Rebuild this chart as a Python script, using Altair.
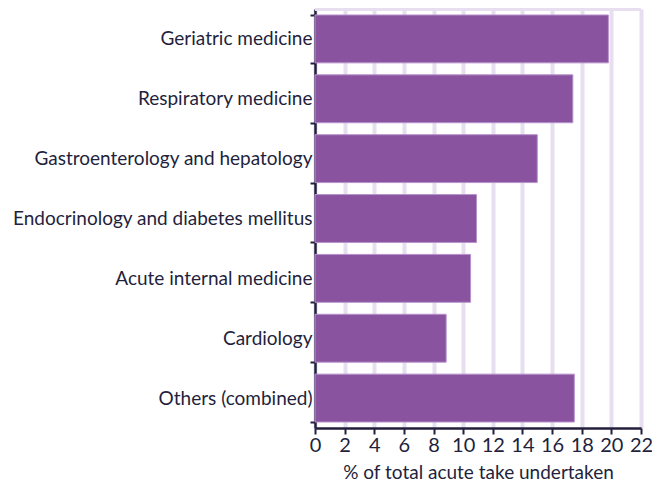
import altair as alt
import pandas as pd

categories = [
    "Geriatric medicine",
    "Respiratory medicine",
    "Gastroenterology and hepatology",
    "Endocrinology and diabetes mellitus",
    "Acute internal medicine",
    "Cardiology",
    "Others (combined)",
]
values = [19.8, 17.4, 15.0, 10.9, 10.5, 8.85, 17.5]
x_ticks = list(range(0, 23, 2))

df = pd.DataFrame({"category": categories, "value": values})

TEXT = "#231f3d"
GRID = "#e7dfef"
FONT = "Lato"

xscale = alt.Scale(domain=[0, 22], nice=False)
xaxis = alt.Axis(
    values=x_ticks, labelFont=FONT, labelFontSize=20, labelColor=TEXT,
    labelOverlap=False, labelFlush=False,
    titleFont=FONT, titleFontSize=19, titleColor=TEXT, titleFontWeight="normal",
    titlePadding=8, tickSize=6, tickColor=TEXT, tickWidth=2,
    domainColor=TEXT, domainWidth=2.5, labelPadding=1,
    grid=True, gridColor=GRID, gridWidth=4,
)
XTITLE = "% of total acute take undertaken"

bars = alt.Chart(df).mark_bar(
    color="#8953a0", stroke="#b792cb", strokeWidth=1
).encode(
    y=alt.Y(
        "category:N",
        sort=categories,
        title=None,
        scale=alt.Scale(paddingInner=0.2, paddingOuter=0.1),
        axis=alt.Axis(
            labelFont=FONT, labelFontSize=19, labelColor=TEXT, labelPadding=-2,
            tickBand="extent", tickSize=5, tickColor=TEXT, tickWidth=2,
            domainColor=TEXT, domainWidth=2.5, grid=False, labelLimit=400,
        ),
    ),
    x=alt.X("value:Q", title=XTITLE, scale=xscale, axis=xaxis),
)

top_line = alt.Chart(pd.DataFrame({"a": [0], "b": [22]})).mark_rule(
    color=GRID, strokeWidth=4
).encode(
    x=alt.X("a:Q", title=XTITLE, scale=xscale, axis=xaxis),
    x2="b:Q",
    y=alt.value(0),
)

chart = alt.layer(top_line, bars).properties(
    width=326, height=419,
    autosize=alt.AutoSizeParams(type="none"),
    padding={"left": 307, "top": 1, "right": 11, "bottom": 54},
).configure_view(stroke=None)

chart.save("out.html", embed_options={"renderer": "svg", "actions": False})
